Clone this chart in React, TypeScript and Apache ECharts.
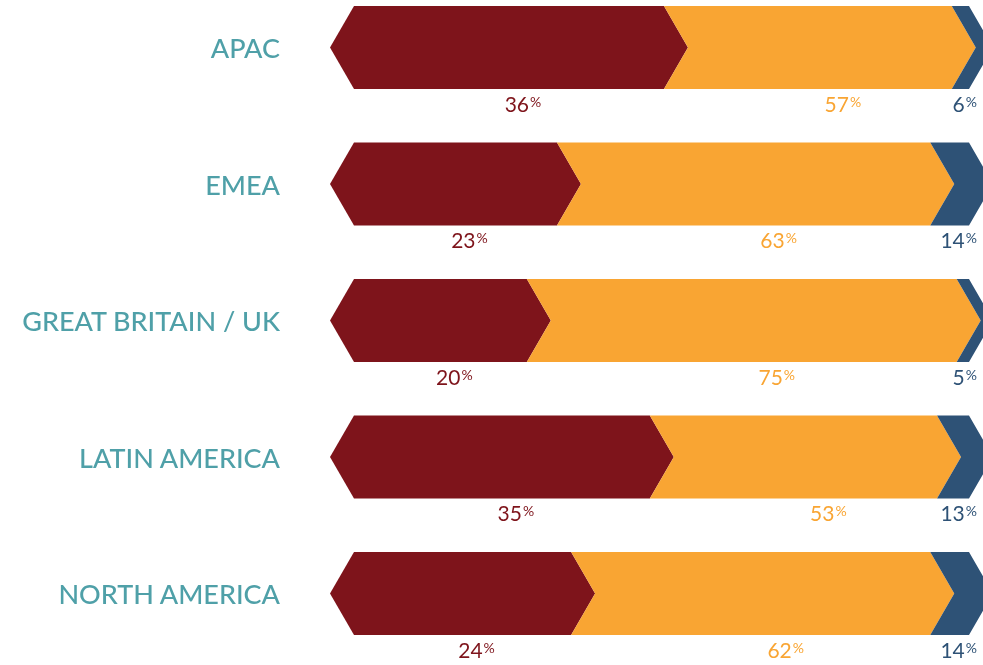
import React, { useEffect, useRef } from "react";
import * as echarts from "echarts";

const categories = ["APAC", "EMEA", "GREAT BRITAIN / UK", "LATIN AMERICA", "NORTH AMERICA"];
// shown percentages
const redPct = [36, 23, 20, 35, 24];
const orangePct = [57, 63, 75, 53, 62];
const bluePct = [6, 14, 5, 13, 14];
// drawn segment lengths (share of the track)
const redLen = [50.4, 33.0, 28.1, 48.1, 35.3];
const orangeLen = [46.8, 60.7, 69.9, 46.7, 58.4];
const blueLen = [2.8, 6.3, 2.0, 5.2, 6.3];

const RED = "#7e141b";
const ORANGE = "#f9a533";
const BLUE = "#2e5276";
const TEAL = "#4fa0a8";

export default function App() {
  const ref = useRef<HTMLDivElement>(null);
  useEffect(() => {
    if (!ref.current) return;
    const chart = echarts.init(ref.current, undefined, { renderer: "svg" });
    const H = 83;
    const D = 24;

    const build = (k: number) => {
      const data: number[][] = [];
      for (let i = 0; i < categories.length; i++) {
        const s =
          k === 0 ? 0 : k === 1 ? redLen[i] : redLen[i] + orangeLen[i];
        const len = k === 0 ? redLen[i] : k === 1 ? orangeLen[i] : blueLen[i];
        const pct = k === 0 ? redPct[i] : k === 1 ? orangePct[i] : bluePct[i];
        data.push([s, s + len, i, pct]);
      }
      return data;
    };
    const colors = [RED, ORANGE, BLUE];

    const mkSeries = (k: number) => ({
      type: "custom",
      clip: false,
      encode: { x: [0, 1], y: 2 },
      data: build(k),
      renderItem: (params: any, api: any) => {
        const s = api.value(0);
        const e = api.value(1);
        const row = api.value(2);
        const pct = api.value(3);
        const p0 = api.coord([s, row]);
        const p1 = api.coord([e, row]);
        const cy = p0[1];
        const top = cy - H / 2;
        const bot = cy + H / 2;
        const x0 = p0[0];
        const x1 = p1[0];
        const leftTip = k === 0 ? x0 - D : x0 + D;
        const points = [
          [x0, top],
          [x1, top],
          [x1 + D, cy],
          [x1, bot],
          [x0, bot],
          [leftTip, cy],
        ];
        let lx: number;
        let align: string;
        if (k === 0) {
          lx = (x0 + x1 + D) / 2 + 2;
          align = "center";
        } else if (k === 1) {
          lx = (x0 + x1) / 2 + 35;
          align = "center";
        } else {
          lx = x1 + 8;
          align = "right";
        }
        return {
          type: "group",
          children: [
            {
              type: "polygon",
              shape: { points },
              style: { fill: colors[k] },
            },
            {
              type: "text",
              style: {
                text: "{n|" + pct + "}{p|%}",
                x: lx,
                y: bot + 14,
                align,
                verticalAlign: "middle",
                rich: {
                  n: {
                    fontFamily: "Lato",
                    fontSize: 21,
                    fill: colors[k],
                    color: colors[k],
                    verticalAlign: "middle",
                    lineHeight: 24,
                  },
                  p: {
                    fontFamily: "Lato",
                    fontSize: 14,
                    fill: colors[k],
                    color: colors[k],
                    verticalAlign: "middle",
                    padding: [0, 0, 4, 1],
                  },
                },
              },
            },
          ],
        };
      },
    });

    chart.setOption({
      animation: false,
      grid: { left: 354, right: 14, top: 47.5, bottom: 71.5, containLabel: false },
      xAxis: {
        type: "value",
        min: 0,
        max: 100,
        show: false,
      },
      yAxis: {
        type: "category",
        inverse: true,
        boundaryGap: false,
        data: categories,
        axisLine: { show: false },
        axisTick: { show: false },
        splitLine: { show: false },
        axisLabel: {
          margin: 74,
          color: TEAL,
          fontFamily: "Lato",
          fontSize: 27,
          fontWeight: 500,
        },
      },
      series: [mkSeries(0), mkSeries(1), mkSeries(2)],
    });
    return () => chart.dispose();
  }, []);
  return (
    <div
      ref={ref}
      style={{ position: "fixed", left: 0, top: 0, width: 983, height: 665 }}
    />
  );
}
